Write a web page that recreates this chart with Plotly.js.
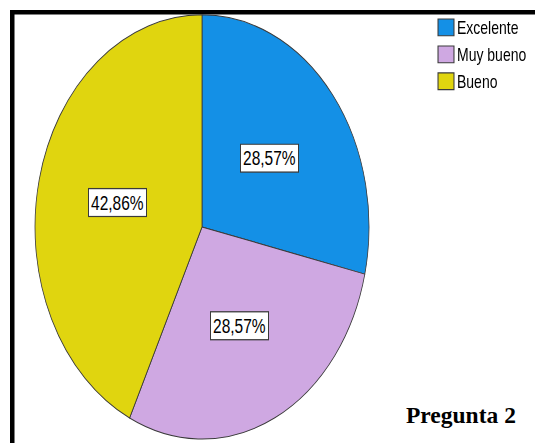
<!DOCTYPE html>
<html>
<head>
<meta charset="utf-8">
<script src="https://cdn.plot.ly/plotly-3.0.1.min.js"></script>
<style>
  html, body { margin: 0; padding: 0; background: #ffffff; }
  #wrap { position: relative; width: 535px; height: 443px; overflow: hidden; background: #ffffff; }
  #frame { position: absolute; left: 0; top: 0; width: 535px; height: 443px; }
  #pie { position: absolute; left: 0; top: 0; width: 535px; height: 349px; transform: scaleY(1.27); transform-origin: 0 0; }
  #pie path.legendpie { transform: translate(20px, 0px) scale(1.33, 1.1); }
  #pie .legendtext { transform: translateX(-9px); }
</style>
</head>
<body>
<div id="wrap">
  <div id="frame"></div>
  <div id="pie"></div>
</div>
<script>
// ---- data ----
const categories = ['Excelente', 'Muy bueno', 'Bueno'];
const percentValues = [28.57, 28.57, 42.86];
const sliceColors = ['#1490e6', '#cfa8e2', '#e0d50f'];
const chartCaption = 'Pregunta 2';

// ---- geometry of the (unscaled) pie layer ----
const W = 535, H = 349;
const cx = 202, cy = 178.7, R = 167;
const labelRadius = 0.52;

const fmt = v => v.toFixed(2).replace('.', ',') + '%';

// label annotations at mid-angle of each slice (derived from values)
const total = percentValues.reduce((a, b) => a + b, 0);
let cum = 0;
const labelAnnotations = percentValues.map(v => {
  const mid = (cum + v / 2) / total;
  cum += v;
  const theta = Math.PI / 2 - 2 * Math.PI * mid;
  const px = cx + labelRadius * R * Math.cos(theta);
  const py = cy - labelRadius * R * Math.sin(theta);
  return {
    x: px / W, y: 1 - py / H, xref: 'paper', yref: 'paper',
    text: fmt(v), showarrow: false,
    font: { family: 'Arial, Liberation Sans, sans-serif', size: 15.5, color: '#000000' },
    bgcolor: '#ffffff', bordercolor: '#3a3a3a', borderwidth: 1, borderpad: 2,
    xanchor: 'center', yanchor: 'middle'
  };
});

const pieTrace = {
  type: 'pie',
  labels: categories,
  values: percentValues,
  sort: false,
  direction: 'clockwise',
  rotation: 0,
  textinfo: 'none',
  hoverinfo: 'skip',
  marker: { colors: sliceColors, line: { color: '#3a3a3a', width: 0.8 } },
  domain: { x: [(cx - R) / W, (cx + R) / W], y: [1 - (cy + R) / H, 1 - (cy - R) / H] }
};

Plotly.newPlot('pie', [pieTrace], {
  width: W, height: H,
  margin: { l: 0, r: 0, t: 0, b: 0, autoexpand: false },
  paper_bgcolor: 'rgba(0,0,0,0)',
  plot_bgcolor: 'rgba(0,0,0,0)',
  showlegend: true,
  legend: {
    x: 426 / W, xanchor: 'left', y: 1 - 6 / H, yanchor: 'top',
    font: { family: 'Arial, Liberation Sans, sans-serif', size: 14, color: '#000000' },
    bgcolor: 'rgba(0,0,0,0)', borderwidth: 0, traceorder: 'normal'
  },
  annotations: labelAnnotations
}, { staticPlot: true, displayModeBar: false });

// ---- frame layer: border lines + caption ----
Plotly.newPlot('frame', [], {
  width: 535, height: 443,
  margin: { l: 0, r: 0, t: 0, b: 0 },
  paper_bgcolor: '#ffffff',
  plot_bgcolor: '#ffffff',
  xaxis: { visible: false }, yaxis: { visible: false },
  shapes: [
    { type: 'rect', xref: 'paper', yref: 'paper', x0: 10 / 535, x1: 1.01, y0: 1 - 14.5 / 443, y1: 1 - 10 / 443,
      fillcolor: '#000000', line: { width: 0 } },
    { type: 'rect', xref: 'paper', yref: 'paper', x0: 10 / 535, x1: 14.5 / 535, y0: -0.01, y1: 1 - 10 / 443,
      fillcolor: '#000000', line: { width: 0 } }
  ],
  annotations: [{
    x: 461 / 535, y: 1 - 415 / 443, xref: 'paper', yref: 'paper',
    text: '<b>' + chartCaption + '</b>', showarrow: false,
    font: { family: 'Liberation Serif, Times New Roman, serif', size: 23.5, color: '#000000' },
    xanchor: 'center', yanchor: 'middle'
  }]
}, { staticPlot: true, displayModeBar: false });
</script>
</body>
</html>
